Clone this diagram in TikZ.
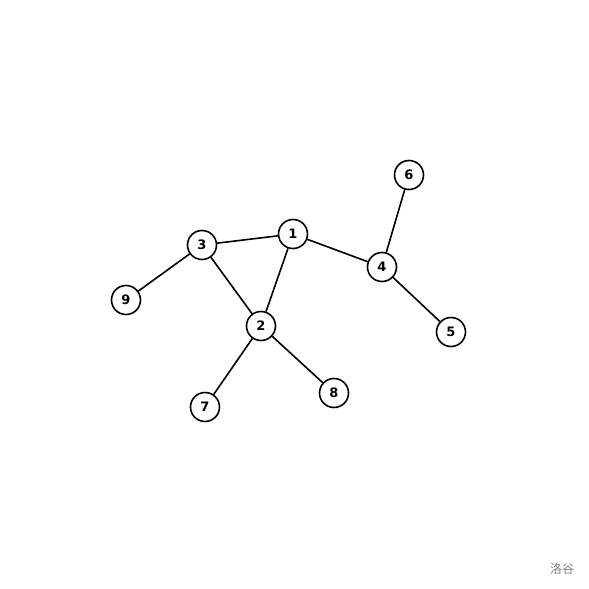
\documentclass[tikz,border=0pt]{standalone}
\usepackage{fontspec}
\setmainfont{DejaVu Sans}
\newfontfamily\cjk{Noto Sans CJK SC}
\begin{document}
\begin{tikzpicture}[x=1pt, y=-1pt,
  vert/.style={circle, draw, line width=1.6pt, minimum size=29pt, inner sep=0pt, fill=white, font=\bfseries\fontsize{13}{13}\selectfont},
  edge/.style={line width=1.6pt}]
\useasboundingbox (0,0) rectangle (589,589);
\node[vert] (v1) at (293,234) {1};
\node[vert] (v2) at (261,326) {2};
\node[vert] (v3) at (202,245) {3};
\node[vert] (v4) at (382,267) {4};
\node[vert] (v5) at (451,332) {5};
\node[vert] (v6) at (409,175) {6};
\node[vert] (v7) at (205,407) {7};
\node[vert] (v8) at (334,393) {8};
\node[vert] (v9) at (126,300) {9};
% edges
\foreach \a/\b in {1/3, 1/2, 3/2, 1/4, 4/6, 4/5, 3/9, 2/7, 2/8}
  \draw[edge] (v\a) -- (v\b);
\node[text=gray, font=\cjk\fontsize{12}{12}\selectfont] (wm) at (562,569) {洛谷};
\end{tikzpicture}
\end{document}
